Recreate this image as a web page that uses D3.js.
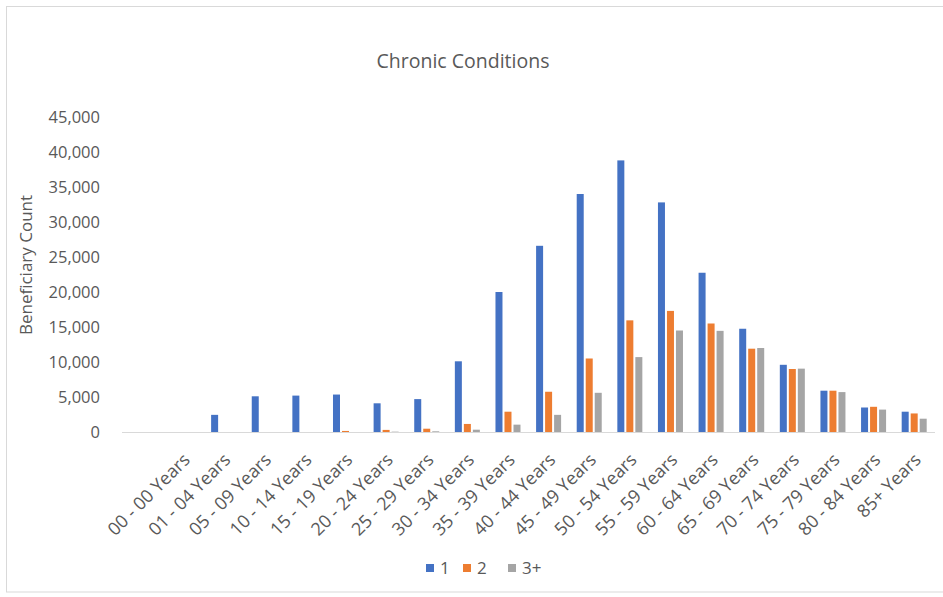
<!DOCTYPE html>
<html>
<head>
<meta charset="utf-8">
<script src="https://cdn.jsdelivr.net/npm/d3@7"></script>
<style>
  html, body { margin: 0; padding: 0; background: #ffffff; }
  svg { display: block; }
  text { font-family: "Open Sans", "DejaVu Sans", sans-serif; fill: #595959; }
</style>
</head>
<body>
<svg id="chart" width="943" height="597"></svg>
<script>
// Age bands on the category axis
const ageBands = [
  "00 - 00 Years", "01 - 04 Years", "05 - 09 Years", "10 - 14 Years",
  "15 - 19 Years", "20 - 24 Years", "25 - 29 Years", "30 - 34 Years",
  "35 - 39 Years", "40 - 44 Years", "45 - 49 Years", "50 - 54 Years",
  "55 - 59 Years", "60 - 64 Years", "65 - 69 Years", "70 - 74 Years",
  "75 - 79 Years", "80 - 84 Years", "85+ Years"
];

// Number of chronic conditions
const seriesNames = ["1", "2", "3+"];

// Beneficiary counts per age band
const oneCondition = [
  0, 2450, 5100, 5200, 5350, 4100, 4700, 10100, 20000, 26600,
  34000, 38800, 32800, 22750, 14750, 9600, 5900, 3500, 2900
];
const twoConditions = [
  0, 0, 0, 0, 150, 300, 470, 1150, 2900, 5750,
  10500, 15950, 17300, 15500, 11900, 9000, 5900, 3600, 2650
];
const threePlusConditions = [
  0, 0, 0, 0, 0, 50, 100, 330, 1050, 2450,
  5600, 10700, 14500, 14450, 12000, 9050, 5700, 3200, 1900
];

const yTicks = [0, 5000, 10000, 15000, 20000, 25000, 30000, 35000, 40000, 45000];
const colors = ["#4472C4", "#ED7D31", "#A5A5A5"];

const seriesValues = [oneCondition, twoConditions, threePlusConditions];
const rows = ageBands.map((band, i) => ({
  band,
  values: seriesNames.map((name, s) => ({ name, value: seriesValues[s][i] }))
}));

const svg = d3.select("#chart");

// Chart frame
svg.append("rect")
  .attr("x", 6.5).attr("y", 6.5)
  .attr("width", 950).attr("height", 585.5)
  .attr("fill", "#ffffff")
  .attr("stroke", "#d9d9d9").attr("stroke-width", 1);

const plotLeft = 122, plotRight = 935, baseY = 432, topY = 117;

const x0 = d3.scaleBand()
  .domain(ageBands)
  .range([162.7, 934.5])
  .paddingInner(0.335)
  .paddingOuter(0.1675);

const x1 = d3.scaleBand()
  .domain(seriesNames)
  .range([0, x0.bandwidth()]);

const y = d3.scaleLinear().domain([0, 45000]).range([baseY, topY]);
const color = d3.scaleOrdinal().domain(seriesNames).range(colors);

// Title
svg.append("text")
  .attr("x", 463).attr("y", 68)
  .attr("text-anchor", "middle")
  .style("font-size", "19.5px")
  .text("Chronic Conditions");

// Y axis (labels only)
const yAxis = d3.axisLeft(y)
  .tickValues(yTicks)
  .tickFormat(d3.format(","))
  .tickSize(0)
  .tickPadding(0);

const yG = svg.append("g")
  .attr("transform", `translate(100,0)`)
  .call(yAxis);
yG.select(".domain").remove();
yG.selectAll("text")
  .style("font-size", "16.5px")
  .style("font-family", "\"Open Sans\", sans-serif")
  .attr("fill", "#595959")
  .attr("dy", "0.35em");

// Y axis title
svg.append("text")
  .attr("transform", "translate(32,265) rotate(-90)")
  .attr("text-anchor", "middle")
  .style("font-size", "17px")
  .text("Beneficiary Count");

// Bars
const groups = svg.append("g")
  .selectAll("g")
  .data(rows)
  .join("g")
  .attr("transform", d => `translate(${x0(d.band)},0)`);

groups.selectAll("rect")
  .data(d => d.values)
  .join("rect")
  .attr("x", d => x1(d.name) + 1)
  .attr("width", x1.bandwidth() - 2)
  .attr("y", d => y(d.value))
  .attr("height", d => baseY - y(d.value))
  .attr("fill", d => color(d.name));

// Category axis baseline
svg.append("line")
  .attr("x1", plotLeft).attr("x2", plotRight)
  .attr("y1", baseY + 0.5).attr("y2", baseY + 0.5)
  .attr("stroke", "#d9d9d9").attr("stroke-width", 1);

// Category labels, rotated 45 degrees
const xAxis = d3.axisBottom(x0).tickSize(0).tickPadding(0);
const xG = svg.append("g")
  .attr("transform", `translate(0,${baseY})`)
  .call(xAxis);
xG.select(".domain").remove();
xG.selectAll(".tick text")
  .style("font-size", "18px")
  .style("font-family", "\"Open Sans\", sans-serif")
  .attr("fill", "#595959")
  .attr("text-anchor", "end")
  .attr("dy", 0)
  .attr("y", 0)
  .attr("transform", "translate(8,29) rotate(-45)");

// Legend
const legend = svg.append("g").attr("transform", "translate(426,564)");
const legendOffsets = [0, 37, 82];
seriesNames.forEach((name, i) => {
  const g = legend.append("g").attr("transform", `translate(${legendOffsets[i]},0)`);
  g.append("rect")
    .attr("width", 8).attr("height", 8)
    .attr("fill", color(name));
  g.append("text")
    .attr("x", 14).attr("y", 4)
    .attr("dy", "0.35em")
    .style("font-size", "17px")
    .text(name);
});
</script>
</body>
</html>
